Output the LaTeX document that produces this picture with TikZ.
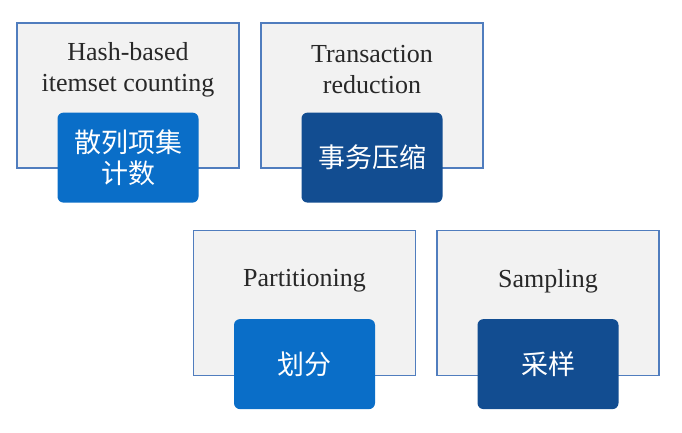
\documentclass[tikz,border=0pt]{standalone}
\usepackage{fontspec}
\setmainfont{Liberation Serif}
\newfontfamily\cjk{Noto Sans CJK SC}
\usetikzlibrary{positioning}
\definecolor{panelLine}{RGB}{80,125,190}
\definecolor{panelFill}{RGB}{242,242,242}
\definecolor{tagBlue}{RGB}{10,110,200}
\definecolor{tagNavy}{RGB}{18,77,145}
\definecolor{titleInk}{RGB}{40,40,40}
\tikzset{
  panel/.style={draw=panelLine, line width=1.2pt, fill=panelFill, minimum width=222pt, minimum height=145pt, inner sep=0pt},
  title/.style={align=center, text=titleInk, font=\fontsize{26}{31}\selectfont},
  tag/.style={rounded corners=6pt, minimum width=141pt, minimum height=90pt, align=center, text=white, font=\cjk\fontsize{27}{31}\selectfont},
  lighttag/.style={tag, fill=tagBlue},
  darktag/.style={tag, fill=tagNavy}
}
\begin{document}
\begin{tikzpicture}[x=1pt, y=-1pt]
  \useasboundingbox (0,0) rectangle (682,433);
  % upper row
  \node[panel] (p1) at (128,95.5) {};
  \node[panel] (p2) at (372,95.5) {};
  % lower row
  \node[panel] (p3) at (304.5,303) {};
  \node[panel] (p4) at (548,303) {};
  \node[title] (t1) at ([yshift=-47pt]p1.north) {Hash-based\\itemset counting};
  \node[title] (t2) at ([yshift=-47pt]p2.north) {Transaction\\reduction};
  \node[title] (t3) at ([yshift=-51pt]p3.north) {Partitioning};
  \node[title] (t4) at ([yshift=-51pt]p4.north) {Sampling};
  \node[lighttag] (c1) at ([yshift=11pt]p1.south) {散列项集\\计数};
  \node[darktag] (c2) at ([yshift=11pt]p2.south) {事务压缩};
  \node[lighttag] (c3) at ([yshift=12pt]p3.south) {划分};
  \node[darktag] (c4) at ([yshift=12pt]p4.south) {采样};
\end{tikzpicture}
\end{document}
